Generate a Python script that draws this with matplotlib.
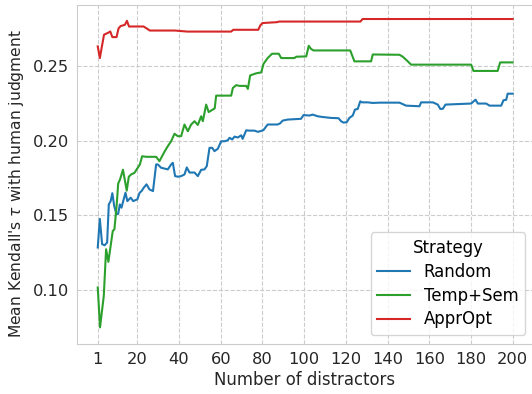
import matplotlib
matplotlib.use("Agg")
import matplotlib.pyplot as plt

# ---- data ----
rand_x = [1, 2, 3.1, 4.3, 5.5, 6.3, 7.2, 8, 8.9, 10, 10.8, 11.6, 12.4, 13.2, 14.3, 15.2, 16.8, 18, 20,
          21.1, 22, 23.1, 24.4, 25.8, 27.5, 29, 29.8, 31.4, 34.6, 36.2, 37, 38.1, 39.4, 41, 42.6, 43.7,
          45, 47.4, 49, 50.6, 52.2, 53.3, 54.6, 55.9, 57, 58.6, 60.2, 61.8, 63.4, 64.2, 65.5, 66.6,
          68.2, 69.8, 70.5, 72.2, 73.8, 76.2, 77.8, 79.4, 80.5, 82.5, 87.3, 88.5, 89.7, 92.1, 98.5,
          99.7, 102.5, 104.1, 106.5, 108.9, 112.9, 116.5, 117.7, 118.8, 120.4, 121.7, 123.3, 124.4,
          125.7, 126.9, 127.8, 130.5, 132.9, 136.1, 145.7, 148.9, 155.3, 156.1, 161.7, 164.1, 165.3,
          166.5, 167.8, 172.9, 180.1, 182.2, 183.3, 187.3, 188.9, 194.5, 195.6, 196.9, 197.6, 200]
rand_y = [0.1285, 0.1476, 0.1307, 0.1300, 0.1318, 0.1573, 0.1595, 0.1648, 0.1562, 0.1507, 0.1510,
          0.1573, 0.1551, 0.1595, 0.1651, 0.1595, 0.1618, 0.1595, 0.1607, 0.1651, 0.1662, 0.1685,
          0.1707, 0.1673, 0.1662, 0.1840, 0.1840, 0.1818, 0.1807, 0.1840, 0.1851, 0.1762, 0.1758,
          0.1762, 0.1773, 0.1820, 0.1786, 0.1786, 0.1762, 0.1804, 0.1807, 0.1829, 0.1951, 0.1951,
          0.1929, 0.1945, 0.1995, 0.1995, 0.2002, 0.2018, 0.2007, 0.2026, 0.2020, 0.2035, 0.2011,
          0.2068, 0.2066, 0.2066, 0.2058, 0.2064, 0.2070, 0.2107, 0.2107, 0.2115, 0.2133, 0.2140,
          0.2145, 0.2170, 0.2167, 0.2173, 0.2162, 0.2157, 0.2151, 0.2149, 0.2129, 0.2120, 0.2122,
          0.2151, 0.2167, 0.2207, 0.2211, 0.2262, 0.2255, 0.2255, 0.2251, 0.2253, 0.2253, 0.2233,
          0.2229, 0.2255, 0.2255, 0.2240, 0.2211, 0.2212, 0.2240, 0.2243, 0.2247, 0.2273, 0.2247,
          0.2247, 0.2233, 0.2233, 0.2269, 0.2272, 0.2313, 0.2313]

ts_x = [1, 2.1, 3.9, 5, 6.1, 8.2, 9, 10.1, 10.8, 11.7, 13.1, 14.9, 15.9, 17, 18.6, 20.2, 21.2, 22.3,
        24.2, 29, 30.6, 33, 34.6, 36.2, 37.8, 39.4, 41, 42.6, 44.2, 45.8, 47.4, 49, 50.6, 51.4, 53,
        54.2, 56.2, 57.1, 57.8, 65, 65.8, 67.4, 69, 72.2, 73, 74.1, 77, 79.4, 80.5, 82.5, 84.6, 87.8,
        89, 95.3, 96.2, 101, 102.2, 103.3, 104.5, 122.1, 124.1, 132.1, 132.9, 145.7, 147.3, 149.7,
        151.3, 180.1, 181.2, 192.8, 194, 200]
ts_y = [0.1018, 0.0751, 0.0962, 0.1273, 0.1189, 0.1395, 0.1407, 0.1573, 0.1712, 0.1740, 0.1805,
        0.1665, 0.1758, 0.1773, 0.1784, 0.1818, 0.1840, 0.1895, 0.1891, 0.1891, 0.1862, 0.1925,
        0.1962, 0.1995, 0.2045, 0.2029, 0.2029, 0.2107, 0.2062, 0.2107, 0.2129, 0.2104, 0.2162,
        0.2129, 0.2240, 0.2190, 0.2207, 0.2215, 0.2300, 0.2300, 0.2351, 0.2370, 0.2365, 0.2365,
        0.2345, 0.2435, 0.2449, 0.2455, 0.2512, 0.2551, 0.2580, 0.2580, 0.2551, 0.2551, 0.2560,
        0.2562, 0.2633, 0.2612, 0.2602, 0.2602, 0.2529, 0.2529, 0.2575, 0.2573, 0.2560, 0.2529,
        0.2507, 0.2507, 0.2465, 0.2465, 0.2522, 0.2522]

opt_x = [1, 2, 4, 6, 7, 8, 10, 11, 12, 14, 15, 16, 23, 26, 38, 44, 65, 66, 78, 79, 80, 87, 88, 127,
         128, 200]
opt_y = [0.2629, 0.2551, 0.2707, 0.2720, 0.2729, 0.2691, 0.2691, 0.2750, 0.2765, 0.2773, 0.2800,
         0.2762, 0.2762, 0.2735, 0.2735, 0.2728, 0.2728, 0.2740, 0.2740, 0.2770, 0.2785, 0.2791,
         0.2795, 0.2795, 0.2812, 0.2812]

series = [("Random", rand_x, rand_y, "#1f77b4"),
          ("Temp+Sem", ts_x, ts_y, "#2ca02c"),
          ("ApprOpt", opt_x, opt_y, "#d62728")]

x_ticks = [1, 20, 40, 60, 80, 100, 120, 140, 160, 180, 200]
y_ticks = [0.10, 0.15, 0.20, 0.25]

fig = plt.figure(figsize=(5.32, 3.94), dpi=100)
ax = fig.add_axes([77 / 532, 50 / 394, 456.4 / 532, 339.5 / 394])
for name, xs, ys, c in series:
    ax.plot(xs, ys, color=c, lw=1.5, label=name)

ax.set_xlim(-8.95, 209.95)
ax.set_ylim(0.0640, 0.2909)
ax.set_xticks(x_ticks)
ax.set_yticks(y_ticks)
ax.set_yticklabels([f"{v:.2f}" for v in y_ticks])
ax.grid(True, ls="--", color="#cccccc", lw=0.8)
ax.set_axisbelow(True)
for s in ax.spines.values():
    s.set_color("#cccccc")
ax.tick_params(length=0, labelsize=11.7, colors="#262626", pad=6)
ax.set_xlabel("Number of distractors", fontsize=11.9, color="#262626")
ax.xaxis.set_label_coords((305 - 77) / 456.4, -(389 - 344) / 339.5)
ax.xaxis.label.set_va("bottom")
ax.set_ylabel(r"Mean Kendall's $\tau$ with human judgment", fontsize=11.2, color="#262626")
ax.yaxis.set_label_coords((26 - 77) / 456.4, (344 - 184) / 339.5)
leg = ax.legend(title="Strategy", loc="lower right", fontsize=11.9, title_fontsize=11.9,
                bbox_to_anchor=((525 - 77) / 456.4, (344 - 335) / 339.5), borderaxespad=0,
                labelspacing=0.35, frameon=True, fancybox=True)
leg.get_frame().set_edgecolor("#cccccc")
fig.savefig("out.png", dpi=100)
